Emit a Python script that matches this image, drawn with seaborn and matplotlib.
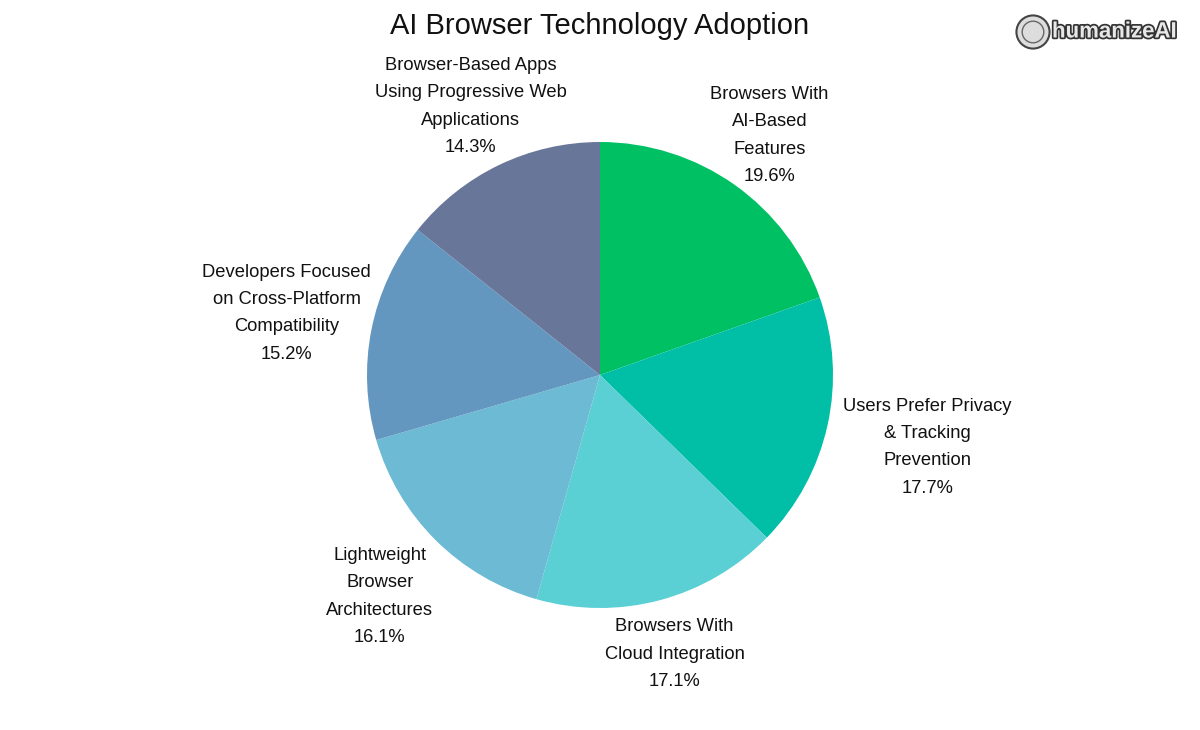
import numpy as np
import seaborn as sns
import matplotlib.pyplot as plt
import matplotlib.patheffects as pe
from matplotlib.patches import Circle

# Données du graphique
categories = [
    "Browsers With\nAI-Based\nFeatures",
    "Users Prefer Privacy\n& Tracking\nPrevention",
    "Browsers With\nCloud Integration",
    "Lightweight\nBrowser\nArchitectures",
    "Developers Focused\non Cross-Platform\nCompatibility",
    "Browser-Based Apps\nUsing Progressive Web\nApplications",
]
values = [19.6, 17.7, 17.1, 16.1, 15.2, 14.3]
colors = ["#00C064", "#00BFA6", "#5AD0D4", "#6CBAD3", "#6397BF", "#68769A"]

# distance des étiquettes (en rayons)
label_dist = [1.26, 1.44, 1.24, 1.34, 1.37, 1.28]

sns.set_theme(style="white")
plt.rcParams['font.family'] = ['Liberation Sans', 'DejaVu Sans']

W, H = 1200, 730
R = 233
cx, cy = 600, 375
fig = plt.figure(figsize=(W / 100, H / 100), dpi=100)
ax = fig.add_axes([(cx - R) / W, (H - cy - R) / H, 2 * R / W, 2 * R / H])

wedges, _ = ax.pie(values, colors=colors, startangle=90, counterclock=False,
                   radius=1, wedgeprops=dict(linewidth=0))
ax.set_xlim(-1, 1)
ax.set_ylim(-1, 1)
ax.axis("off")

total = sum(values)
for w, lab, v, d in zip(wedges, categories, values, label_dist):
    ang = np.deg2rad((w.theta1 + w.theta2) / 2)
    ax.text(d * np.cos(ang), d * np.sin(ang), f"{lab}\n{v / total * 100:.1f}%",
            ha="center", va="center", multialignment="center",
            fontsize=13.2, color="#111111", linespacing=1.8)

fig.text(0.5, 1 - 26 / H, "AI Browser Technology Adoption", ha="center", va="center",
         fontsize=21, color="#111111")

# logo humanizeAI
logo_ax = fig.add_axes([1015 / W, 1 - 50 / H, 36 / W, 36 / H])
logo_ax.set_xlim(-1, 1)
logo_ax.set_ylim(-1, 1)
logo_ax.set_aspect("equal")
logo_ax.axis("off")
logo_ax.add_patch(Circle((0, 0), 0.92, facecolor="#dddddd", edgecolor="#444444", linewidth=1.5))
logo_ax.add_patch(Circle((0, 0), 0.6, facecolor="none", edgecolor="#666666", linewidth=1))
fig.text(1052 / W, 1 - 32 / H, "humanizeAI", ha="left", va="center", fontsize=16,
         fontweight="bold", color="#e8e8e8",
         path_effects=[pe.withStroke(linewidth=2.5, foreground="#333333")])

fig.savefig("out.png", dpi=100, facecolor="white")
